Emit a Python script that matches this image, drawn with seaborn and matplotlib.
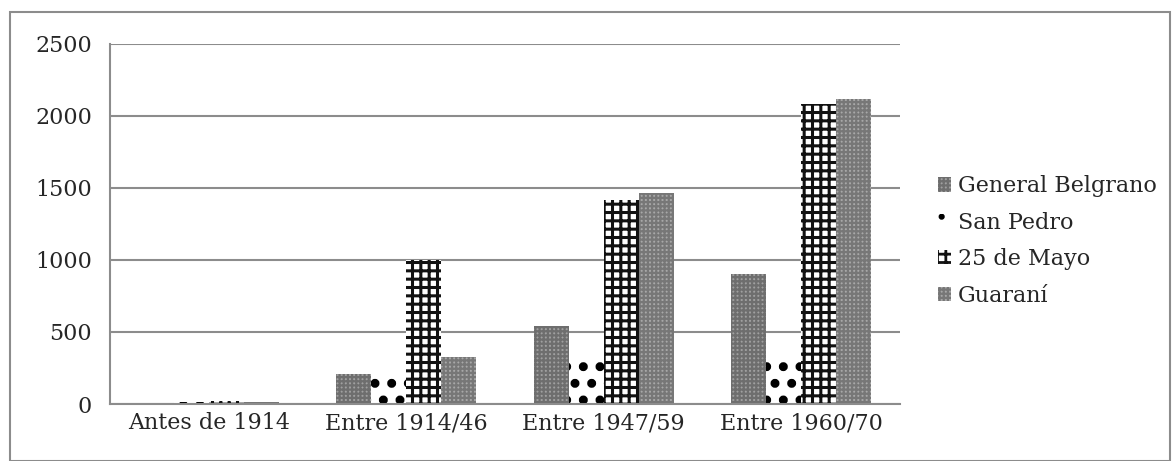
import matplotlib
matplotlib.use("Agg")
import matplotlib.pyplot as plt
import seaborn as sns
import pandas as pd
import numpy as np
from matplotlib.patches import Rectangle, Patch

categories = ["Antes de 1914", "Entre 1914/46", "Entre 1947/59", "Entre 1960/70"]
series = ["General Belgrano", "San Pedro", "25 de Mayo", "Guaraní"]
general_belgrano = [10, 208, 540, 900]
san_pedro = [14, 200, 300, 310]
veinticinco_mayo = [18, 1000, 1415, 2083]
guarani = [12, 326, 1465, 2118]
yticks = [0, 500, 1000, 1500, 2000, 2500]

rows = []
for name, vals in zip(series, [general_belgrano, san_pedro, veinticinco_mayo, guarani]):
    for c, v in zip(categories, vals):
        rows.append({"cat": c, "serie": name, "val": v})
df = pd.DataFrame(rows)

sns.set_style("white")
plt.rcParams['font.family'] = ['DejaVu Serif', 'Liberation Serif']
plt.rcParams['hatch.linewidth'] = 1.6

FS = 16
fig = plt.figure(figsize=(11.73, 4.61), dpi=100)
ax = fig.add_axes([110/1173, 1-404/461, 790/1173, 360/461])

styles = {
    "General Belgrano": dict(face="#a0a0a0", hatch="++++", edge="#6e6e6e", lw=1.6),
    "San Pedro": dict(face="white", hatch=".", edge="black", lw=4),
    "25 de Mayo": dict(face="white", hatch="++", edge="#111111", lw=2.2),
    "Guaraní": dict(face="#a8a8a8", hatch="++++", edge="#777777", lw=1.6),
}

sns.barplot(data=df, x="cat", y="val", hue="serie", hue_order=series,
            order=categories, width=0.71, ax=ax, legend=False, saturation=1)

for cont, name in zip(ax.containers, series):
    st = styles[name]
    for p in cont:
        p.set_facecolor(st["face"])
        p.set_hatch(st["hatch"])
        p.set_edgecolor(st["edge"])
        p.set_linewidth(0)
        try:
            p.set_hatch_linewidth(st["lw"])
        except Exception:
            pass

ax.set_ylim(0, 2500)
ax.set_xlim(-0.5, 3.5)
ax.set_yticks(yticks)
ax.set_yticklabels([str(v) for v in yticks], fontsize=FS)
ax.yaxis.grid(True, color="#8c8c8c", linewidth=1.5)
ax.set_axisbelow(True)
ax.set_xlabel("")
ax.set_ylabel("")
ax.set_xticks(range(len(categories)))
ax.set_xticklabels(categories, fontsize=FS)
ax.tick_params(axis="x", which="major", length=0, pad=6)
ax.set_xticks([-0.5, 0.5, 1.5, 2.5, 3.5], minor=True)
ax.tick_params(axis="x", which="minor", length=7, color="#8c8c8c", width=1.5, direction="out")
ax.tick_params(axis="y", length=7, color="#8c8c8c", width=1.5, direction="out", pad=6)
for s in ["top", "right"]:
    ax.spines[s].set_visible(False)
for s in ["left", "bottom"]:
    ax.spines[s].set_color("#8c8c8c")
    ax.spines[s].set_linewidth(1.5)

handles = []
for n in series:
    st = styles[n]
    h = Patch(facecolor=st["face"], hatch=st["hatch"], edgecolor=st["edge"], linewidth=0, label=n)
    handles.append(h)
leg = fig.legend(handles=handles, loc="center left", bbox_to_anchor=(938/1173, 1-241/461),
           frameon=False, fontsize=FS, handlelength=0.6, handleheight=0.6,
           handletextpad=0.3, labelspacing=0.65, borderaxespad=0, borderpad=0)
for h, n in zip(leg.legend_handles, series):
    try:
        h.set_hatch_linewidth(min(styles[n]["lw"], 2.0))
    except Exception:
        pass

fig.patches.append(Rectangle((10/1173, 0), 1160/1173, 1-12/461, transform=fig.transFigure,
                             fill=False, edgecolor="#8c8c8c", linewidth=1.5))

fig.savefig("out.png", dpi=100)
